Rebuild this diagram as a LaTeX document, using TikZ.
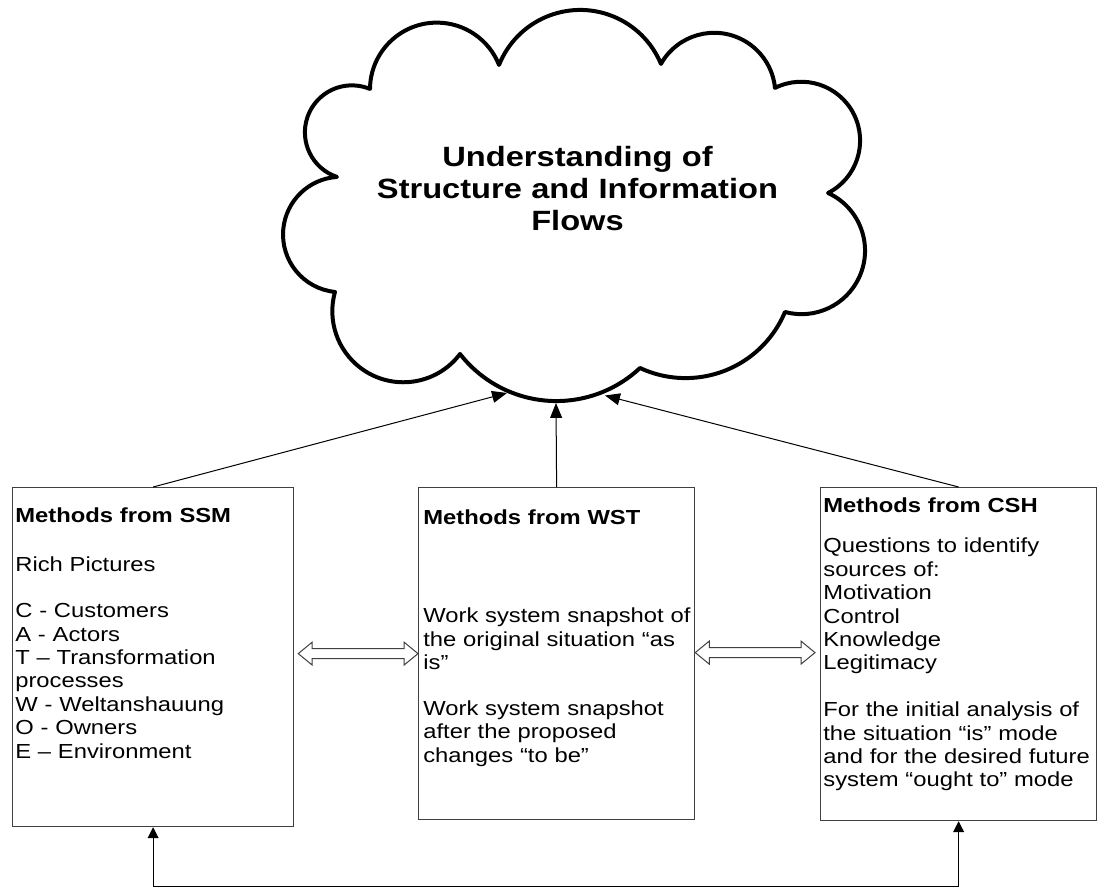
\documentclass[tikz,border=0pt]{standalone}
\usepackage{fontspec}
\setmainfont{Liberation Sans}[FakeStretch=1.17]
\usetikzlibrary{arrows.meta,calc}

\begin{document}
\begin{tikzpicture}[x=0.02cm,y=0.02cm,
  cloudline/.style={line width=2.27pt, line join=round},
  box/.style={draw=black!75, line width=0.74pt, inner sep=0pt, anchor=north west},
  body/.style={anchor=base west, inner sep=0pt, text width=6cm, align=left,
    font=\fontsize{11.57pt}{13.32pt}\selectfont},
  headline/.style={anchor=base, inner sep=0pt, text width=9cm, align=center,
    font=\fontsize{15.87pt}{18.14pt}\selectfont\bfseries},
  feed/.style={line width=0.57pt, -{Triangle[length=8.5pt,width=6.8pt]}},
  loopback/.style={line width=0.57pt,
    {Triangle[length=6.2pt,width=6.2pt]}-{Triangle[length=6.2pt,width=6.2pt]}},
  hollow/.style={draw=black!75, line width=0.57pt, fill=white, line join=miter},
]
\useasboundingbox (0,0) rectangle (1113,887);

% the cloud, one arc per puff
\draw[cloudline] (370,798)
  arc[start angle=179.6, end angle=21.5, radius=66.85]
  arc[start angle=158.25, end angle=22.5, radius=87.4]
  arc[start angle=150.6, end angle=5.6, radius=61.1]
  arc[start angle=116.5, end angle=-62.9, radius=58.85]
  arc[start angle=65.3, end angle=-105.1, radius=63.5]
  arc[start angle=-22.75, end angle=-115, radius=107.8]
  arc[start angle=-46.85, end angle=-142.05, radius=122.25]
  arc[start angle=-37, end angle=-195.8, radius=71]
  arc[start angle=264.3, end angle=93.7, radius=57.7]
  arc[start angle=251.5, end angle=67.4, radius=47]
  -- cycle;
\node[headline] (goal) at (577.5,720)
  {Understanding of\\ Structure and Information\\ Flows};

% the three method boxes
\node[box, minimum width=5.62cm, minimum height=6.78cm] (ssm) at (12,400) {};
\node[box, minimum width=5.52cm, minimum height=6.64cm] (wst) at (418,400) {};
\node[box, minimum width=5.52cm, minimum height=6.66cm] (csh) at (820,400) {};

\node[body] (ssmtext) at (15,364)
  {\textbf{Methods from SSM}\\[14.46pt]
   Rich Pictures\\[12.76pt]
   C - Customers\\
   A - Actors\\
   T – Transformation\\
   processes\\
   W - Weltanshauung\\
   O - Owners\\
   E – Environment};

\node[body] (wsttext) at (423,362)
  {\textbf{Methods from WST}\\[42.24pt]
   Work system snapshot of\\
   the original situation “as\\
   is”\\[12.76pt]
   Work system snapshot\\
   after the proposed\\
   changes “to be”};

\node[body] (cshtext) at (823,375)
  {\textbf{Methods from CSH}\\[9.92pt]
   Questions to identify\\
   sources of:\\
   Motivation\\
   Control\\
   Knowledge\\
   Legitimacy\\[13.32pt]
   For the initial analysis of\\
   the situation “is” mode\\
   and for the desired future\\
   system “ought to” mode};

% arrows into the cloud
\coordinate (tipL) at (507,494);
\coordinate (tipM) at (556,484);
\coordinate (tipR) at (605,491.5);
\draw[feed] (ssm.north) -- (tipL);
\draw[feed] (wst.north) -- (tipM);
\draw[feed] (csh.north) -- (tipR);

% feedback line along the bottom
\draw[loopback] (ssm.south) -- ++(0,-59) -| (csh.south);

% hollow two-headed arrows between the boxes
\coordinate (dl1) at ($(ssm.east)+(4,3.5)$);
\coordinate (dl2) at (wst.west |- dl1);
\coordinate (dr1) at ($(wst.east)+(0,1)$);
\coordinate (dr2) at ($(csh.west |- dr1)+(-5,0)$);
\newcommand\hollowpair[2]{%
  \draw[hollow] (#1) -- ++(14,11.5) -- ++(0,-6.5) -- ($(#2)+(-14,5)$)
    -- ++(0,6.5) -- (#2) -- ++(-14,-11.5) -- ++(0,6.5)
    -- ($(#1)+(14,-5)$) -- ++(0,-6.5) -- cycle;}
\hollowpair{dl1}{dl2}
\hollowpair{dr1}{dr2}
\end{tikzpicture}
\end{document}
